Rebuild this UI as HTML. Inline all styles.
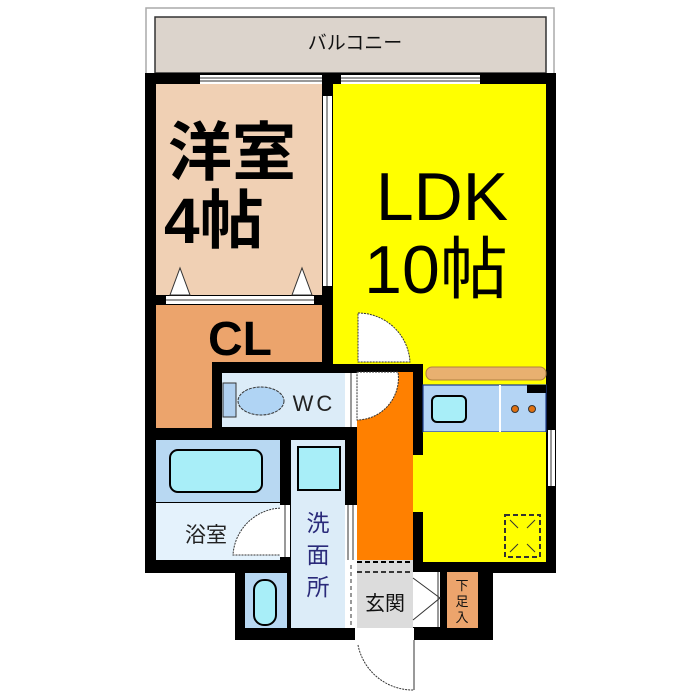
<!DOCTYPE html>
<html><head><meta charset="utf-8"><style>
html,body{margin:0;padding:0;background:#fff;width:700px;height:700px;overflow:hidden}
svg{display:block}
text{font-family:"Liberation Sans","Noto Sans CJK JP",sans-serif}
</style></head><body>
<svg width="700" height="700" viewBox="0 0 700 700" xmlns="http://www.w3.org/2000/svg">
<rect x="146" y="8" width="408" height="68" fill="#fff" stroke="#aaa" stroke-width="1.5"/>
<rect x="155" y="17" width="391" height="56" fill="#dcd4cc" stroke="#333" stroke-width="1.5"/>
<text x="355" y="49" font-size="19" text-anchor="middle" fill="#111">バルコニー</text>

<rect x="145" y="73" width="411" height="500" fill="#000"/>
<rect x="235" y="560" width="120" height="80" fill="#000"/>
<rect x="413" y="560" width="80" height="80" fill="#000"/>

<rect x="200" y="75" width="122" height="9" fill="#fff"/>
<line x1="200" y1="78" x2="322" y2="78" stroke="#333"/><line x1="200" y1="81" x2="322" y2="81" stroke="#333"/>
<rect x="341" y="75" width="139" height="9" fill="#fff"/>
<line x1="341" y1="78" x2="480" y2="78" stroke="#333"/><line x1="341" y1="81" x2="480" y2="81" stroke="#333"/>

<rect x="156" y="84" width="166" height="211" fill="#f0d0b4"/>
<rect x="323" y="96" width="9" height="190" fill="#fff"/>
<line x1="327" y1="96" x2="327" y2="286" stroke="#333"/>
<rect x="166" y="296" width="148" height="8" fill="#fff"/>
<line x1="166" y1="300" x2="314" y2="300" stroke="#333"/>
<polygon points="170,295 180,268 190,295" fill="#fff" stroke="#333"/>
<polygon points="292,295 302,268 312,295" fill="#fff" stroke="#333"/>
<text x="168" y="175" font-size="64" font-weight="bold" fill="#000">洋室</text>
<text x="164" y="243" font-size="64" font-weight="bold" fill="#000">4帖</text>

<rect x="333" y="84" width="213" height="280" fill="#ffff00"/>
<text x="442" y="220" font-size="68" text-anchor="middle" fill="#000">LDK</text>
<text x="436" y="293" font-size="68" text-anchor="middle" fill="#000">10帖</text>
<path d="M358,313 A52,52 0 0 1 410,362 L358,362 Z" fill="#fff" stroke="#333" stroke-dasharray="2,1"/>

<path d="M156,305 H322 V362 H212 V428 H156 Z" fill="#eca46c"/>
<text x="240" y="355" font-size="48" font-weight="bold" text-anchor="middle" fill="#000">CL</text>

<rect x="222" y="373" width="123" height="54" fill="#dcecf8"/>
<rect x="223" y="383" width="13" height="34" fill="#b0d0f0" stroke="#333"/>
<ellipse cx="261" cy="401" rx="23" ry="14" fill="#b0d4f4" stroke="#333" stroke-dasharray="3,1"/>
<text x="314" y="411" font-size="22" text-anchor="middle" fill="#222" letter-spacing="3">WC</text>
<rect x="345" y="373" width="12" height="54" fill="#fff"/>
<line x1="351" y1="373" x2="351" y2="427" stroke="#333"/>

<rect x="357" y="372" width="56" height="190" fill="#ff8000"/>
<path d="M357,372 L398,372 A42,42 0 0 1 357,420 Z" fill="#fff" stroke="#333" stroke-dasharray="2,1"/>

<rect x="423" y="364" width="123" height="68" fill="#ffff00"/>
<rect x="426" y="367" width="120" height="13" rx="6" fill="#e8b070" stroke="#b08040"/>
<rect x="423" y="385" width="123" height="47" fill="#b4d4f4"/>
<rect x="423" y="385" width="123" height="47" fill="none" stroke="#1a3a8a" stroke-width="1.2"/>
<line x1="500" y1="385" x2="500" y2="432" stroke="#fff" stroke-width="2"/>
<rect x="432" y="396" width="34" height="26" rx="5" fill="#a8eef8" stroke="#000" stroke-width="2"/>
<rect x="527" y="385" width="19" height="8" fill="#000"/>
<circle cx="515" cy="409" r="3.5" fill="#e07010" stroke="#333"/>
<circle cx="532" cy="409" r="3.5" fill="#e07010" stroke="#333"/>
<rect x="423" y="432" width="123" height="130" fill="#ffff00"/>
<rect x="413" y="455" width="10" height="57" fill="#ffff00"/>
<rect x="548" y="430" width="7" height="56" fill="#fff"/>
<line x1="551" y1="430" x2="551" y2="486" stroke="#333"/>
<rect x="505" y="515" width="35" height="42" fill="none" stroke="#333" stroke-width="2" stroke-dasharray="5,3"/>
<path d="M510,520 L518,528 M535,520 L527,528 M510,552 L518,544 M535,552 L527,544" stroke="#333"/>

<rect x="156" y="440" width="124" height="62" fill="#b8d8f2"/>
<rect x="170" y="450" width="92" height="42" rx="8" fill="#a8eef8" stroke="#000" stroke-width="2"/>
<rect x="156" y="503" width="124" height="57" fill="#e4f2fc"/>
<path d="M283,508 A50,50 0 0 0 233,555 L283,555 Z" fill="#fff" stroke="#333" stroke-dasharray="2,1"/>
<rect x="280" y="505" width="10" height="52" fill="#fff"/>
<line x1="285" y1="505" x2="285" y2="557" stroke="#333"/>
<text x="206" y="542" font-size="21" text-anchor="middle" fill="#222">浴室</text>

<rect x="291" y="440" width="54" height="188" fill="#dcecf8"/>
<rect x="298" y="447" width="42" height="43" fill="#a8eef8" stroke="#000" stroke-width="2"/>
<text x="318" y="531" font-size="23" text-anchor="middle" fill="#2a2a7a">洗</text>
<text x="318" y="563" font-size="23" text-anchor="middle" fill="#2a2a7a">面</text>
<text x="318" y="595" font-size="23" text-anchor="middle" fill="#2a2a7a">所</text>
<rect x="345" y="505" width="12" height="123" fill="#fff"/>
<line x1="348" y1="505" x2="348" y2="560" stroke="#333"/>
<line x1="353" y1="505" x2="353" y2="560" stroke="#333"/>
<line x1="351" y1="565" x2="351" y2="625" stroke="#333" stroke-dasharray="4,3"/>

<rect x="245" y="573" width="42" height="55" fill="#b8d8f2"/>
<rect x="254" y="580" width="22" height="45" rx="10" fill="#a8eef8" stroke="#000" stroke-width="2"/>

<rect x="357" y="560" width="56" height="68" fill="#dcdcdc"/>
<line x1="357" y1="562" x2="413" y2="562" stroke="#000" stroke-width="2" stroke-dasharray="5,3"/>
<line x1="357" y1="572" x2="413" y2="572" stroke="#000" stroke-width="1.5" stroke-dasharray="5,3"/>
<text x="385" y="610" font-size="20" text-anchor="middle" fill="#111">玄関</text>
<rect x="413" y="572" width="27" height="55" fill="#fff"/>
<path d="M413,578 L440,598 L413,620" fill="none" stroke="#333"/>
<line x1="438" y1="572" x2="438" y2="627" stroke="#333"/>
<rect x="447" y="572" width="31" height="56" fill="#eca46c"/>
<text x="462" y="590" font-size="13" text-anchor="middle" fill="#111">下</text>
<text x="462" y="606" font-size="13" text-anchor="middle" fill="#111">足</text>
<text x="462" y="622" font-size="13" text-anchor="middle" fill="#111">入</text>

<rect x="357" y="628" width="57" height="12" fill="#fff"/>
<path d="M358,645 A56,56 0 0 0 414,690 L414,640" fill="none" stroke="#333" stroke-dasharray="2,1"/>
<line x1="414" y1="640" x2="414" y2="690" stroke="#333"/>
</svg>
</body></html>
